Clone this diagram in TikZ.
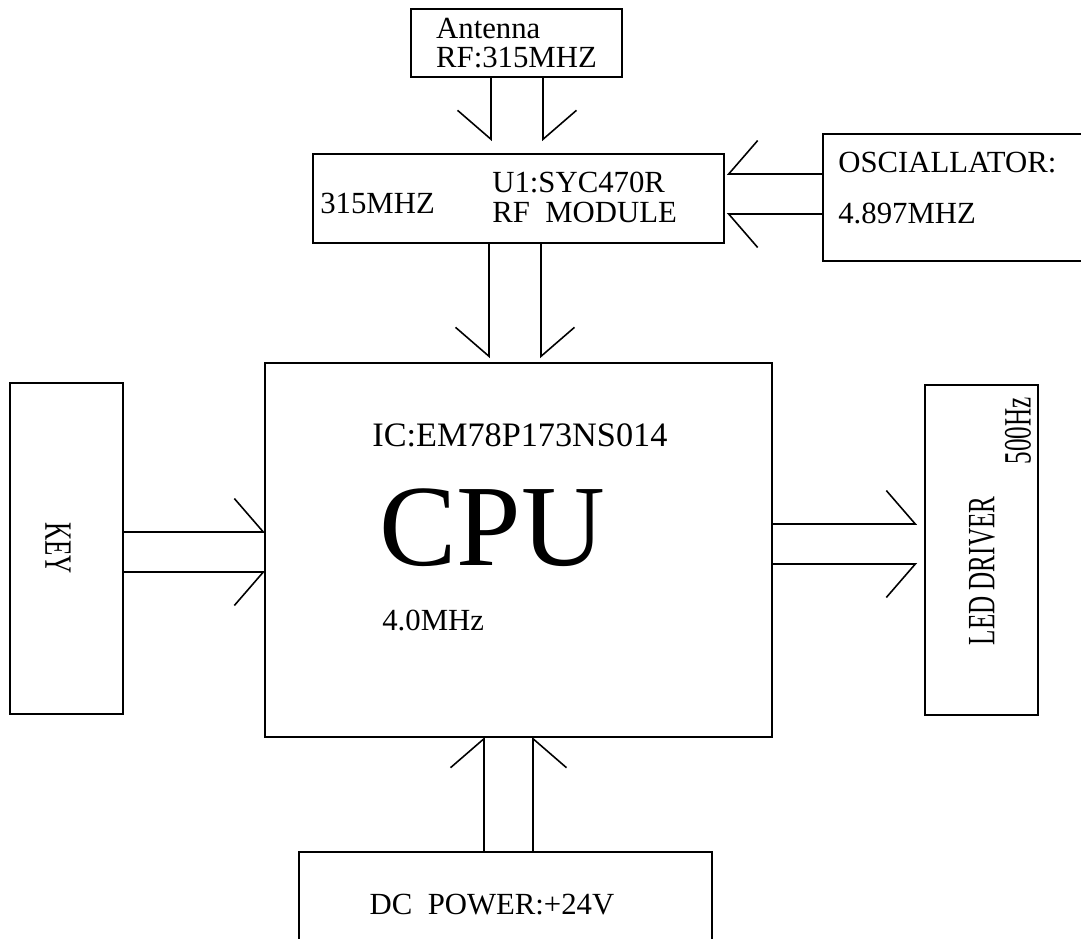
\documentclass[tikz,border=0pt]{standalone}
\usepackage{fontspec}
\setmainfont{Liberation Serif}
\usetikzlibrary{arrows.meta,calc}

\begin{document}
\begin{tikzpicture}[x=0.02cm,y=-0.02cm,
	blok/.style={draw,line width=0.9pt,inner sep=0pt,outer sep=0pt},
	txt/.style={font=\fontsize{17.5}{17}\selectfont,inner sep=0pt,align=left},
	vtxt/.style={font=\fontsize{22}{24}\selectfont,inner sep=0pt,rotate=#1,xscale=0.65},
	pl/.style={line width=0.9pt,-{Straight Barb[harpoon,length=0.58cm,width=1.34cm]}},
	pr/.style={line width=0.9pt,-{Straight Barb[harpoon,swap,length=0.58cm,width=1.34cm]}}]
			\useasboundingbox (0,0) rectangle (1081,938);
			\clip (0,0) rectangle (1081,938);
			\node[blok,txt,minimum width=4.22cm,minimum height=1.36cm] (ant) at (516.5,43) {Antenna\\RF:315MHZ};
			\node[blok,minimum width=8.22cm,minimum height=1.78cm] (rf) at (518.5,198.5) {};
				\node[txt,anchor=west] (rff) at (320,203) {315MHZ};
				\node[txt,anchor=west] (rfm) at (492,197) {U1:SYC470R\\RF\enspace MODULE};
			\node[blok,minimum width=5.94cm,minimum height=2.54cm] (osc) at (971.5,197.5) {};
				\node[txt,anchor=west,font=\fontsize{17.5}{29}\selectfont] (osct) at (838,188.5) {OSCIALLATOR:\\4.897MHZ};
			\node[blok,minimum width=10.14cm,minimum height=7.48cm] (cpu) at (518.5,550) {};
				\node[txt,anchor=west,font=\fontsize{19.5}{20}\selectfont] (ic) at (372,435) {IC:EM78P173NS014};
				\node[anchor=west,inner sep=0pt,font=\fontsize{66}{70}\selectfont] (cpun) at (379,528) {CPU};
				\node[txt,anchor=west] (clk) at (382,620) {4.0MHz};
			\node[blok,minimum width=2.26cm,minimum height=6.62cm] (key) at (66.5,548.5) {};
				\node[vtxt=-90] (keyt) at (58,548) {KEY};
			\node[blok,minimum width=2.26cm,minimum height=6.6cm] (led) at (981.5,550) {};
				\node[vtxt=90] (ledt) at (982,571) {LED DRIVER};
				\node[vtxt=90] (hz) at (1018,431) {500Hz};
			\node[blok,minimum width=8.26cm,minimum height=2.16cm] (dc) at (505.5,906) {};
				\node[txt] (dct) at (492,905) {DC\enspace POWER:+24V};
			\draw[pr,shorten >=0.26cm] ($(ant.south)+(-25.5,0)$) -- ($(rf.north)+(-27.5,0)$);
			\draw[pl,shorten >=0.26cm] ($(ant.south)+(26.5,0)$) -- ($(rf.north)+(24.5,0)$);
			\draw[pr,shorten >=0.1cm] ($(rf.south)+(-29.5,0)$) -- ($(cpu.north)+(-29.5,0)$);
			\draw[pl,shorten >=0.1cm] ($(rf.south)+(22.5,0)$) -- ($(cpu.north)+(22.5,0)$);
			\draw[pr,shorten >=0.06cm] ($(osc.west)+(0,-23.5)$) -- ($(rf.east)+(0,-24.5)$);
			\draw[pl,shorten >=0.06cm] ($(osc.west)+(0,16.5)$) -- ($(rf.east)+(0,15.5)$);
			\draw[pl] ($(key.east)+(0,-16.5)$) -- ($(cpu.west)+(0,-18)$);
			\draw[pr] ($(key.east)+(0,23.5)$) -- ($(cpu.west)+(0,22)$);
			\draw[pl,shorten >=0.16cm] ($(cpu.east)+(0,-26)$) -- ($(led.west)+(0,-26)$);
			\draw[pr,shorten >=0.16cm] ($(cpu.east)+(0,14)$) -- ($(led.west)+(0,14)$);
			\draw[pl] ($(dc.north)+(-21.5,0)$) -- ($(cpu.south)+(-34.5,0)$);
			\draw[pr] ($(dc.north)+(27.5,0)$) -- ($(cpu.south)+(14.5,0)$);
		\end{tikzpicture}
\end{document}
